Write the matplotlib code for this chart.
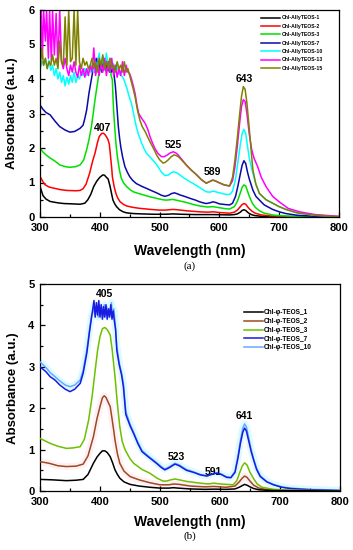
import matplotlib
matplotlib.use("Agg")
import matplotlib.pyplot as plt
from matplotlib.ticker import MultipleLocator

plt.rcParams['font.family'] = ['Liberation Sans', 'DejaVu Sans']

# ---------------- Panel (a) data: (wavelength nm, absorbance) ----------------
a1 = [(300,0.89),(305,0.62),(310,0.52),(317,0.45),(330,0.41),(340,0.39),(355,0.38),(367,0.37),(375,0.40),
      (380,0.50),(385,0.66),(390,0.89),(395,1.04),(400,1.15),(405,1.22),(408,1.21),(411,1.15),(414,1.10),
      (417,0.90),(420,0.65),(422,0.49),(425,0.38),(428,0.30),(433,0.21),(439,0.15),(445,0.12),(456,0.10),
      (470,0.09),(490,0.08),(511,0.08),(522,0.09),(535,0.08),(560,0.07),(590,0.07),(617,0.06),(625,0.07),
      (630,0.09),(635,0.14),(638,0.19),(641,0.21),(644,0.19),(647,0.14),(650,0.10),(655,0.06),(660,0.04),
      (670,0.02),(685,0.01),(700,0.005),(730,0),(800,0)]
a2 = [(300,1.18),(305,1.02),(308,0.94),(315,0.87),(322,0.84),(335,0.79),(345,0.77),(360,0.76),(367,0.77),
      (372,0.82),(377,0.95),(383,1.27),(388,1.62),(392,1.85),(396,2.15),(399,2.33),(403,2.42),(406,2.43),
      (409,2.38),(412,2.30),(414,2.23),(416,2.10),(418,1.75),(420,1.40),(421,1.17),(424,0.88),(427,0.68),
      (430,0.55),(434,0.44),(440,0.36),(445,0.32),(455,0.28),(467,0.25),(485,0.22),(500,0.20),(510,0.20),
      (522,0.22),(530,0.21),(545,0.18),(567,0.15),(580,0.14),(590,0.15),(600,0.13),(617,0.11),(625,0.14),
      (630,0.20),(635,0.30),(638,0.36),(641,0.39),(644,0.37),(647,0.30),(650,0.24),(655,0.16),(660,0.11),
      (670,0.06),(685,0.03),(700,0.02),(730,0.01),(800,0)]
a3 = [(300,2.00),(305,1.88),(310,1.80),(317,1.71),(325,1.62),(333,1.51),(342,1.46),(350,1.44),(360,1.46),
      (367,1.51),(373,1.65),(378,1.95),(382,2.25),(386,2.62),(389,3.00),(392,3.40),(395,3.75),(397,3.97),
      (399,4.25),(401,4.45),(403,4.20),(405,4.60),(407,4.25),(409,4.50),(411,4.20),(413,4.55),(415,4.25),
      (417,4.40),(419,4.10),(421,3.97),(422,3.50),(423,3.10),(425,2.60),(427,2.13),(429,1.80),(431,1.56),
      (433,1.35),(436,1.12),(440,0.98),(445,0.88),(450,0.80),(456,0.73),(465,0.68),(473,0.64),(485,0.58),
      (495,0.54),(505,0.50),(511,0.49),(518,0.50),(522,0.51),(530,0.48),(545,0.42),(555,0.37),(567,0.32),
      (580,0.29),(589,0.30),(600,0.27),(610,0.24),(617,0.23),(625,0.30),(630,0.45),(635,0.70),(638,0.86),
      (641,0.93),(644,0.90),(647,0.75),(650,0.60),(655,0.40),(660,0.28),(667,0.18),(675,0.11),(689,0.06),
      (700,0.04),(730,0.015),(760,0.005),(800,0)]
a7 = [(300,3.25),(305,3.12),(310,3.03),(317,2.96),(325,2.78),(333,2.62),(342,2.52),(350,2.46),(358,2.48),
      (367,2.57),(372,2.66),(375,2.86),(378,3.10),(382,3.60),(385,3.90),(388,4.20),(390,4.45),(392,4.20),
      (394,4.60),(396,4.30),(398,4.65),(400,4.25),(402,4.50),(404,4.20),(406,4.60),(408,4.30),(410,4.55),
      (412,4.25),(414,4.50),(416,4.20),(418,4.45),(420,4.20),(422,4.35),(424,4.10),(426,3.80),(427,3.58),
      (429,3.10),(431,2.62),(433,2.30),(435,2.04),(438,1.75),(442,1.46),(446,1.30),(450,1.17),(455,1.06),
      (461,0.97),(470,0.89),(478,0.83),(487,0.76),(495,0.70),(503,0.63),(509,0.60),(515,0.63),(520,0.68),
      (525,0.70),(530,0.67),(534,0.64),(543,0.59),(551,0.54),(560,0.49),(567,0.44),(573,0.41),(578,0.39),
      (584,0.41),(589,0.44),(594,0.42),(600,0.38),(610,0.36),(617,0.35),(622,0.40),(627,0.60),(631,0.90),
      (635,1.25),(638,1.50),(641,1.63),(644,1.55),(647,1.30),(650,1.10),(656,0.78),(661,0.60),(667,0.49),
      (675,0.35),(689,0.22),(700,0.15),(711,0.10),(730,0.05),(760,0.02),(800,0)]
a10 = [(300,4.30),(303,4.50),(306,4.40),(309,4.60),(312,4.30),(315,4.55),(318,4.25),(321,4.40),(324,4.10),
       (327,4.30),(330,4.00),(333,4.20),(336,3.90),(339,4.10),(342,3.80),(345,4.05),(348,3.85),(351,4.10),
       (354,3.90),(357,4.20),(360,3.90),(363,4.10),(366,4.00),(369,4.20),(372,4.10),(375,4.30),(378,4.10),
       (381,4.30),(384,4.20),(387,4.40),(390,4.20),(393,4.50),(396,4.30),(399,4.75),(402,4.30),(405,4.65),
       (408,4.40),(411,4.75),(414,4.30),(417,4.60),(420,4.30),(423,4.45),(426,4.20),(429,4.35),(432,4.15),
       (436,4.10),(440,4.00),(445,3.75),(449,3.50),(453,3.29),(457,2.95),(461,2.62),(465,2.38),(470,2.14),
       (474,1.98),(478,1.85),(486,1.70),(495,1.52),(503,1.30),(509,1.20),(515,1.22),(520,1.29),(524,1.31),
       (530,1.27),(540,1.14),(550,1.03),(560,0.93),(570,0.82),(578,0.73),(584,0.72),(590,0.75),(596,0.72),
       (605,0.68),(612,0.65),(618,0.66),(622,0.75),(627,1.10),(631,1.60),(635,2.10),(638,2.42),(641,2.54),
       (644,2.42),(647,2.05),(650,1.70),(656,1.26),(661,0.95),(667,0.68),(678,0.50),(689,0.40),(700,0.30),
       (711,0.22),(730,0.12),(760,0.05),(800,0.01)]
a13 = [(300,4.50),(302,6.00),(304,4.60),(306,6.00),(309,5.10),(311,6.00),(314,4.60),(316,6.00),(319,4.50),
       (321,6.00),(324,4.70),(327,5.90),(330,4.40),(333,6.00),(336,4.50),(339,4.30),(342,4.60),(345,4.30),
       (348,4.10),(351,4.40),(354,4.20),(357,4.50),(360,4.20),(363,4.05),(366,4.40),(369,4.10),(372,4.30),
       (375,4.05),(378,4.30),(381,4.10),(384,4.40),(387,4.20),(390,4.90),(393,4.10),(396,4.40),(399,4.10),
       (402,4.50),(405,4.20),(408,4.60),(411,4.10),(414,4.50),(417,4.20),(420,4.60),(423,4.10),(426,4.40),
       (429,4.05),(432,4.30),(435,4.10),(438,4.50),(441,4.10),(444,4.40),(447,4.20),(450,4.15),(453,4.00),
       (456,3.80),(459,3.58),(462,3.25),(465,3.00),(470,2.86),(476,2.71),(480,2.55),(484,2.33),(488,2.15),
       (492,1.99),(497,1.85),(503,1.75),(508,1.75),(513,1.80),(518,1.86),(523,1.89),(527,1.86),(531,1.80),
       (538,1.65),(545,1.50),(553,1.36),(562,1.22),(570,1.08),(578,0.98),(584,1.03),(589,1.07),(594,1.04),
       (600,0.99),(608,0.93),(617,0.90),(622,1.05),(626,1.45),(630,2.05),(634,2.75),(637,3.20),(640,3.40),
       (643,3.35),(646,3.00),(650,2.40),(654,1.95),(658,1.70),(664,1.46),(670,1.15),(678,0.88),(689,0.60),
       (700,0.44),(715,0.25),(734,0.15),(760,0.07),(800,0.02)]
a15 = [(300,4.20),(303,4.90),(306,4.40),(309,4.60),(312,4.30),(315,4.50),(318,4.40),(321,4.70),(324,4.40),
       (327,4.60),(330,4.30),(333,5.10),(336,4.50),(339,4.40),(342,5.80),(345,4.40),(348,6.00),(351,4.50),
       (354,4.60),(357,6.00),(360,4.40),(363,6.00),(366,4.50),(369,4.30),(372,4.60),(375,4.40),(378,4.50),
       (381,4.30),(384,4.40),(387,4.60),(390,4.30),(393,4.50),(396,4.20),(399,4.60),(402,4.40),(405,4.70),
       (408,4.30),(411,4.50),(414,4.30),(417,4.60),(420,4.30),(423,4.40),(426,4.20),(429,4.50),(432,4.30),
       (435,4.40),(438,4.20),(441,4.50),(444,4.20),(447,4.30),(450,4.10),(453,3.90),(456,3.70),(459,3.48),
       (463,3.10),(467,2.81),(471,2.62),(476,2.47),(480,2.32),(484,2.18),(490,1.98),(495,1.80),(500,1.66),
       (506,1.56),(510,1.59),(514,1.65),(519,1.74),(524,1.80),(528,1.78),(532,1.74),(538,1.63),(545,1.50),
       (553,1.36),(562,1.22),(570,1.08),(578,0.98),(584,1.03),(589,1.07),(594,1.04),(600,0.99),(608,0.93),
       (617,0.90),(622,1.15),(626,1.65),(630,2.30),(634,3.00),(637,3.50),(640,3.78),(643,3.70),(646,3.30),
       (650,2.55),(653,1.95),(656,1.36),(661,0.95),(667,0.68),(678,0.50),(689,0.40),(700,0.30),(711,0.22),
       (730,0.12),(760,0.05),(800,0.01)]

labels_a = ["Chl-AllyTEOS-1", "Chl-AllyTEOS-2", "Chl-AllyTEOS-3", "Chl-AllyTEOS-7",
            "Chl-AllyTEOS-10", "Chl-AllyTEOS-13", "Chl-AllyTEOS-15"]
colors_a = ["#000000", "#ff0000", "#00e000", "#0a0aa8", "#00ffff", "#ff00ff", "#808000"]
peaks_a = [(405, 2.58, "407"), (523, 2.09, "525"), (589, 1.30, "589"), (641, 4.0, "643")]

# ---------------- Panel (b) data ----------------
b1 = [(300,0.28),(320,0.27),(344,0.25),(360,0.26),(372,0.28),(380,0.40),(389,0.67),(395,0.82),(400,0.91),
      (404,0.97),(408,0.97),(412,0.93),(417,0.83),(421,0.68),(425,0.51),(429,0.40),(433,0.31),(440,0.22),
      (450,0.16),(465,0.12),(483,0.09),(500,0.07),(515,0.07),(522,0.08),(530,0.07),(550,0.05),(575,0.04),
      (590,0.045),(610,0.04),(625,0.05),(632,0.09),(637,0.13),(641,0.16),(645,0.14),(650,0.10),(656,0.06),
      (665,0.03),(680,0.015),(700,0.01),(800,0)]
b2 = [(300,0.71),(315,0.67),(330,0.61),(344,0.59),(360,0.60),(372,0.65),(380,0.85),(389,1.31),(395,1.75),
      (400,2.04),(404,2.25),(407,2.30),(410,2.26),(414,2.13),(417,2.04),(420,1.75),(423,1.45),(425,1.23),
      (429,0.90),(433,0.67),(440,0.48),(450,0.35),(465,0.27),(483,0.20),(500,0.15),(515,0.15),(523,0.17),
      (532,0.16),(550,0.12),(575,0.10),(590,0.11),(610,0.09),(625,0.12),(632,0.22),(637,0.31),(641,0.36),
      (645,0.33),(650,0.24),(656,0.14),(665,0.07),(680,0.03),(700,0.015),(800,0)]
b3 = [(300,1.27),(310,1.20),(317,1.15),(330,1.08),(344,1.03),(355,1.04),(367,1.07),(374,1.25),(381,1.71),
      (387,2.30),(392,2.92),(396,3.40),(400,3.73),(404,3.92),(408,3.95),(412,3.90),(417,3.77),(420,3.45),
      (425,2.76),(429,2.10),(433,1.55),(437,1.20),(442,0.99),(450,0.78),(456,0.67),(470,0.52),(483,0.43),
      (495,0.31),(505,0.24),(511,0.24),(518,0.27),(525,0.29),(532,0.27),(545,0.23),(567,0.19),(580,0.17),
      (590,0.19),(600,0.17),(622,0.15),(628,0.25),(633,0.45),(637,0.60),(641,0.68),(645,0.63),(650,0.45),
      (656,0.30),(662,0.17),(670,0.09),(689,0.04),(710,0.02),(800,0)]
b7 = [(300,3.00),(310,2.88),(317,2.76),(325,2.68),(333,2.56),(342,2.46),(350,2.40),(358,2.46),(367,2.60),
      (372,2.85),(378,3.33),(383,3.90),(386,4.20),(388,4.40),(390,4.60),(392,4.20),(394,4.55),(396,4.25),
      (398,4.60),(400,4.20),(402,4.50),(404,4.15),(406,4.45),(408,4.20),(410,4.50),(412,4.15),(414,4.40),
      (416,4.20),(418,4.50),(420,4.15),(422,4.35),(424,4.10),(426,3.90),(428,3.40),(432,3.05),(436,2.80),
      (439,2.52),(443,1.85),(450,1.58),(456,1.39),(463,1.15),(470,0.95),(480,0.83),(494,0.67),(502,0.57),
      (508,0.51),(515,0.56),(525,0.65),(532,0.61),(544,0.50),(556,0.45),(567,0.39),(578,0.36),(586,0.40),
      (594,0.43),(602,0.40),(611,0.33),(618,0.32),(625,0.45),(630,0.80),(634,1.15),(638,1.42),(641,1.52),
      (644,1.45),(648,1.20),(652,0.95),(656,0.75),(661,0.52),(667,0.35),(678,0.22),(689,0.15),(703,0.09),
      (717,0.06),(750,0.03),(800,0.01)]
b10 = [(300,3.12),(310,2.98),(317,2.86),(325,2.76),(333,2.66),(342,2.56),(350,2.52),(358,2.56),(367,2.68),
       (372,2.92),(378,3.40),(383,3.95),(386,4.25),(388,4.30),(390,4.50),(392,4.25),(395,4.45),(397,4.20),
       (399,4.50),(401,4.25),(403,4.45),(405,4.20),(407,4.50),(409,4.25),(411,4.45),(413,4.20),(415,4.40),
       (417,4.25),(419,4.55),(421,4.20),(423,4.40),(425,4.10),(428,3.50),(432,3.10),(436,2.85),(439,2.60),
       (443,1.92),(450,1.62),(456,1.42),(463,1.18),(470,0.98),(480,0.85),(494,0.69),(502,0.59),(508,0.53),
       (515,0.58),(525,0.67),(532,0.63),(544,0.52),(556,0.46),(567,0.40),(578,0.37),(586,0.41),(594,0.44),
       (602,0.41),(611,0.34),(618,0.33),(625,0.47),(630,0.85),(634,1.22),(638,1.52),(641,1.62),(644,1.55),
       (648,1.28),(652,1.00),(656,0.78),(661,0.55),(667,0.37),(678,0.23),(689,0.16),(703,0.10),(717,0.07),
       (750,0.04),(800,0.02)]

labels_b = ["Chl-φ-TEOS_1", "Chl-φ-TEOS_2", "Chl-φ-TEOS_3", "Chl-φ-TEOS_7", "Chl-φ-TEOS_10"]
colors_b = ["#000000", "#9c4a20", "#6cc000", "#1a1ae0", "#66aaff"]
halo_b = [None, "#fff0f5", None, None, "#dcfaff"]
peaks_b = [(408, 4.76, "405"), (528, 0.83, "523"), (589, 0.47, "591"), (641, 1.81, "641")]

W, H = 353, 550
fig = plt.figure(figsize=(W / 100, H / 100), dpi=100)


def style_axes(ax, ymax):
    ax.set_xlim(300, 800)
    ax.set_ylim(0, ymax)
    ax.xaxis.set_major_locator(MultipleLocator(100))
    ax.xaxis.set_minor_locator(MultipleLocator(50))
    ax.yaxis.set_major_locator(MultipleLocator(1))
    ax.yaxis.set_minor_locator(MultipleLocator(0.5))
    ax.tick_params(which='both', direction='in', top=False, right=False, width=0.9)
    ax.tick_params(which='major', length=3.5, labelsize=8, pad=4)
    ax.tick_params(which='minor', length=2)
    for lab in ax.get_xticklabels() + ax.get_yticklabels():
        lab.set_fontweight('bold')
    for s in ax.spines.values():
        s.set_linewidth(0.9)


def split(series):
    return [p[0] for p in series], [p[1] for p in series]


# Panel (a)
axa = fig.add_axes([40 / W, 1 - 217 / H, 299 / W, 207 / H])
for s, lab, c in zip([a1, a2, a3, a7, a10, a13, a15], labels_a, colors_a):
    x, y = split(s)
    axa.plot(x, y, color=c, lw=1.1, label=lab)
style_axes(axa, 6)
for x, y, t in peaks_a:
    axa.text(x, y, t, ha='center', va='center', fontsize=7.5, fontweight='bold')
axa.legend(loc='upper left', bbox_to_anchor=(261 / W, 1 - 15.5 / H), bbox_transform=fig.transFigure,
           frameon=False, prop={'weight': 'bold', 'size': 3.7}, borderpad=0,
           handlelength=3.7, handletextpad=0.3, labelspacing=0.66, borderaxespad=0)

# Panel (b)
axb = fig.add_axes([40 / W, 1 - 491 / H, 300 / W, 207 / H])
for s, c in zip([b2, b10], [halo_b[1], halo_b[4]]):
    x, y = split(s)
    axb.plot(x, y, color=c, lw=5, solid_capstyle='butt', zorder=1)
zs = [5, 4, 4, 3.5, 3]
for s, lab, c, z in zip([b1, b2, b3, b7, b10], labels_b, colors_b, zs):
    x, y = split(s)
    axb.plot(x, y, color=c, lw=1.1, label=lab, zorder=z)
style_axes(axb, 5)
for x, y, t in peaks_b:
    axb.text(x, y, t, ha='center', va='center', fontsize=7.5, fontweight='bold')
axb.legend(loc='upper left', bbox_to_anchor=(244 / W, 1 - 309.5 / H), bbox_transform=fig.transFigure,
           frameon=False, prop={'weight': 'bold', 'size': 4.7}, borderpad=0,
           handlelength=2.9, handletextpad=0.2, labelspacing=0.26, borderaxespad=0)

# axis labels and panel captions
for yc in (250.5, 522):
    fig.text(190 / W, 1 - yc / H, "Wavelength (nm)", ha='center', va='center', fontsize=10, fontweight='bold')
fig.text(12 / W, 1 - 113 / H, "Absorbance (a.u.)", ha='center', va='center', rotation=90,
         fontsize=9.5, fontweight='bold')
fig.text(13 / W, 1 - 388 / H, "Absorbance (a.u.)", ha='center', va='center', rotation=90,
         fontsize=9.5, fontweight='bold')
fig.text(190 / W, 1 - 266 / H, "(a)", ha='center', va='center', fontsize=8, family='Liberation Serif')
fig.text(190 / W, 1 - 536 / H, "(b)", ha='center', va='center', fontsize=8, family='Liberation Serif')

fig.savefig("out.png", dpi=100)
